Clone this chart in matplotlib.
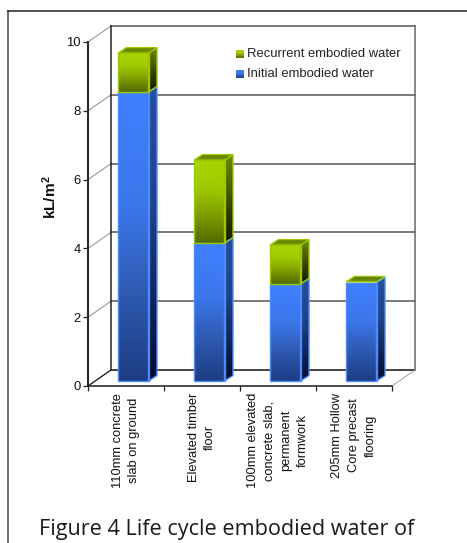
import numpy as np
import matplotlib
matplotlib.use("Agg")
import matplotlib.pyplot as plt
from matplotlib.colors import LinearSegmentedColormap
from matplotlib.lines import Line2D
from matplotlib.patches import Polygon

plt.rcParams["mathtext.fontset"] = "custom"
plt.rcParams["mathtext.bf"] = "Liberation Sans:bold"
plt.rcParams["mathtext.rm"] = "Liberation Sans"

# Life cycle embodied water per floor system (kL/m2)
categories = [
    "110mm concrete\nslab on ground",
    "Elevated timber\nfloor",
    "100mm elevated\nconcrete slab,\npermanent\nformwork",
    "205mm Hollow\nCore precast\nflooring",
]
initial_water = [8.40, 4.01, 2.82, 2.85]
recurrent_water = [1.13, 2.41, 1.13, 0.03]
y_ticks = [0, 2, 4, 6, 8, 10]
series_labels = ["Recurrent embodied water", "Initial embodied water"]

W, H = 467, 543
fig = plt.figure(figsize=(W / 100, H / 100), dpi=100, facecolor="white")

# Front plane of the pseudo-3D chart box
LEFT, RIGHT, TOP, BOTTOM = 88, 392, 42, 386
ax = fig.add_axes([LEFT / W, 1 - BOTTOM / H, (RIGHT - LEFT) / W, (BOTTOM - TOP) / H])
ax.set_xlim(0, 4)
ax.set_ylim(0, 10)
ax.patch.set_alpha(0)

ux = (RIGHT - LEFT) / 4      # pixels per category
uy = (BOTTOM - TOP) / 10     # pixels per y unit
wall_dx, wall_dy = 23 / ux, 16 / uy      # depth of the box, data units
bar_dx, bar_dy = 8.5 / ux, 5.5 / uy      # depth of one bar, data units
bar_lift = 5 / uy                        # bars stand slightly behind the front edge
bar_left, bar_width = 30 / ux, 30.5 / ux

BLUE_FRONT = LinearSegmentedColormap.from_list(
    "bf", [(0, "#4080ff"), (0.4, "#3b76ea"), (0.7, "#2e5ab0"), (1, "#1e3d85")])
BLUE_SIDE = LinearSegmentedColormap.from_list(
    "bs", [(0, "#24509f"), (0.4, "#1f4288"), (0.7, "#10285e"), (1, "#000c2c")])
GREEN_FRONT = LinearSegmentedColormap.from_list("gf", ["#a8d400", "#a0ca00", "#7d9d00", "#546a00"])
GREEN_SIDE = LinearSegmentedColormap.from_list("gs", ["#6b8700", "#4f6400", "#2e3a00", "#141a00"])
GREEN_CAP = LinearSegmentedColormap.from_list("gc", ["#587000", "#7a9a00"])
BLUE_EDGE, GREEN_EDGE = "#4c8aff", "#9cc800"

ramp = np.linspace(0, 1, 64).reshape(-1, 1)


def shaded_face(points, cmap, edge=None, zorder=3):
    """Fill a polygon with a vertical gradient, clipped to its outline."""
    pts = np.array(points)
    extent = (pts[:, 0].min(), pts[:, 0].max(), pts[:, 1].min(), pts[:, 1].max())
    img = ax.imshow(ramp, cmap=cmap, extent=extent, origin="upper", aspect="auto",
                    zorder=zorder, interpolation="bilinear")
    outline = Polygon(pts, closed=True, transform=ax.transData, facecolor="none",
                      edgecolor=edge if edge else "none", lw=1.0, zorder=zorder + 0.1,
                      clip_on=False)
    ax.add_patch(outline)
    img.set_clip_path(outline)


def block(x0, y0, y1, front, side, edge):
    x1 = x0 + bar_width
    shaded_face([(x1, y0), (x1 + bar_dx, y0 + bar_dy), (x1 + bar_dx, y1 + bar_dy), (x1, y1)], side, edge)
    shaded_face([(x0, y0), (x1, y0), (x1, y1), (x0, y1)], front, edge)


# Back wall, side wall and floor of the box
for v in y_ticks:
    ax.plot([0, wall_dx], [v, v + wall_dy], color="#8c8c8c", lw=0.7, clip_on=False, zorder=1)
    if v > 0:
        ax.plot([wall_dx, 4 + wall_dx], [v + wall_dy] * 2, color="#555555", lw=1.1, clip_on=False, zorder=1)
ax.plot([0, wall_dx], [0, wall_dy], color="#222222", lw=0.9, clip_on=False, zorder=1)
ax.plot([wall_dx, 4 + wall_dx], [wall_dy, wall_dy], color="#111111", lw=1.1, clip_on=False, zorder=1)
ax.plot([wall_dx, wall_dx], [wall_dy, 10 + wall_dy], color="#222222", lw=1.1, clip_on=False, zorder=1)
ax.plot([4 + wall_dx, 4 + wall_dx], [wall_dy, 10 + wall_dy], color="#666666", lw=1.1, clip_on=False, zorder=1)
ax.plot([4, 4 + wall_dx], [0, wall_dy], color="#a0a0a0", lw=0.7, clip_on=False, zorder=1)

# Stacked bars, initial water below recurrent water
for i, (a, b) in enumerate(zip(initial_water, recurrent_water)):
    x0 = i + bar_left
    block(x0, bar_lift, bar_lift + a, BLUE_FRONT, BLUE_SIDE, BLUE_EDGE)
    y_top = bar_lift + a + b
    if b > 0.1:
        block(x0, bar_lift + a, y_top, GREEN_FRONT, GREEN_SIDE, GREEN_EDGE)
    x1 = x0 + bar_width
    shaded_face([(x0, y_top), (x1, y_top), (x1 + bar_dx, y_top + bar_dy), (x0 + bar_dx, y_top + bar_dy)],
                GREEN_CAP, GREEN_EDGE, zorder=3.5)

ax.set_xlim(0, 4)
ax.set_ylim(0, 10)

# Axes styling
for s in ("top", "right"):
    ax.spines[s].set_visible(False)
ax.spines["left"].set_color("#2a2a2a")
ax.spines["left"].set_linewidth(1.5)
ax.spines["bottom"].set_color("#1a1a1a")
ax.spines["bottom"].set_linewidth(1.1)
ax.set_yticks(y_ticks)
ax.set_xticks(range(5))
ax.set_xticklabels([])
ax.tick_params(axis="both", length=3.6, width=0.9, color="#222222")
ax.tick_params(axis="y", labelsize=9.4, labelcolor="#111111", pad=1.6)

for t in ax.get_yticklabels():
    t.set_fontfamily("Liberation Sans")

for i, name in enumerate(categories):
    ax.annotate(name, xy=(i + 0.5, 0), xycoords="data", xytext=(0, -5), textcoords="offset points",
                rotation=90, ha="center", va="top", ma="center", fontsize=9.3,
                family="Liberation Sans", color="#111111", linespacing=1.5)

fig.text(50 / W, 1 - 197 / H, "kL/m$\\mathbf{^2}$", rotation=90, ha="center", va="center",
         fontsize=11.1, fontweight="bold", family="Liberation Sans", color="#111111")

# Legend swatches and labels
swatch_colors = [GREEN_FRONT, BLUE_FRONT]
legend_y = [54, 74]
for name, cmap, y in zip(series_labels, swatch_colors, legend_y):
    ax_s = fig.add_axes([236 / W, 1 - (y + 4) / H, 8 / W, 8 / H])
    ax_s.imshow(ramp, cmap=cmap, aspect="auto")
    ax_s.axis("off")
    fig.text(247 / W, 1 - y / H, name, ha="left", va="center", fontsize=9.35,
             family="Liberation Sans", color="#222222")

# Surrounding document frame and the caption beneath it
fig.add_artist(Line2D([8 / W, 8 / W], [0, 1 - 11 / H], color="#444444", lw=1.1))
fig.add_artist(Line2D([8 / W, 1], [1 - 11 / H, 1 - 11 / H], color="#222222", lw=1.1))
fig.text(227 / W, 1 - 529 / H, "Figure 4 Life cycle embodied water of", ha="center", va="center",
         fontsize=15.6, family="Open Sans", color="#1a1a1a")

fig.savefig("out.png", dpi=100)
